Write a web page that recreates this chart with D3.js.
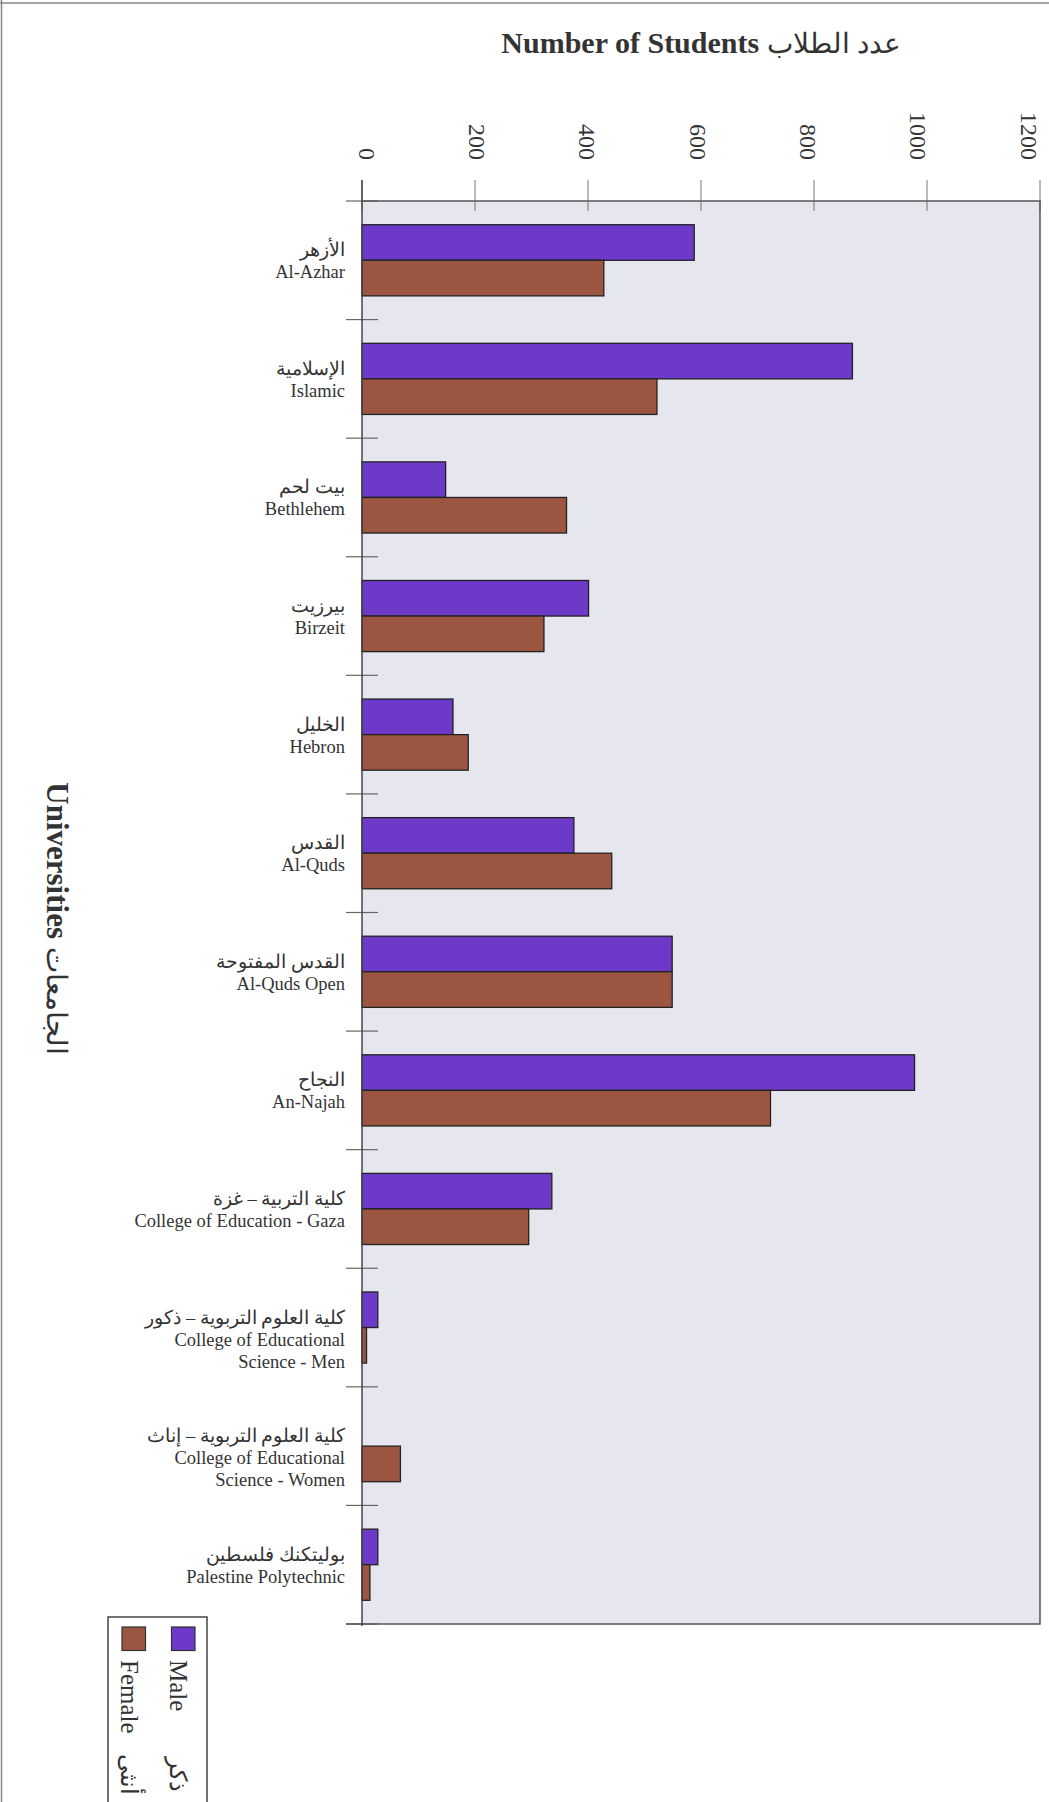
<!DOCTYPE html>
<html>
  <head>
    <meta charset="utf-8">
    <title>Number of Students by University</title>
    <script src="https://d3js.org/d3.v7.min.js"></script>
    <style>
      body { margin: 0; background: #fff; }
      text { font-family: "Liberation Serif", "Times New Roman", serif; fill: #333; }
    </style>
  </head>
  <body>
    <svg id="chart" width="1049" height="1802"></svg>
    <script>
// data
var arabicNames = ["الأزهر", "الإسلامية", "بيت لحم", "بيرزيت", "الخليل", "القدس",
  "القدس المفتوحة", "النجاح", "كلية التربية – غزة", "كلية العلوم التربوية – ذكور",
  "كلية العلوم التربوية – إناث", "بوليتكنك فلسطين"];
var englishNames = [["Al-Azhar"], ["Islamic"], ["Bethlehem"], ["Birzeit"], ["Hebron"], ["Al-Quds"],
  ["Al-Quds Open"], ["An-Najah"], ["College of Education - Gaza"],
  ["College of Educational", "Science - Men"], ["College of Educational", "Science - Women"],
  ["Palestine Polytechnic"]];
var male   = [588, 868, 148, 401, 161, 375, 549, 978, 336, 28, 0, 28];
var female = [428, 522, 362, 322, 188, 442, 549, 723, 295, 8, 68, 14];
var xTicks = [0, 200, 400, 600, 800, 1000, 1200];
var seriesNames = ["Male", "Female"];
var seriesArabic = ["ذكر", "أنثى"];
var colors = ["#6d39c8", "#9c5541"];

var svg = d3.select("#chart");

// page frame lines from the scan
svg.append("line").attr("x1", 0).attr("x2", 1049).attr("y1", 3).attr("y2", 3)
  .attr("stroke", "#888").attr("stroke-width", 1.5);
svg.append("line").attr("x1", 1.5).attr("x2", 1.5).attr("y1", 0).attr("y2", 1802)
  .attr("stroke", "#888").attr("stroke-width", 1.5);

// plot box (window.top is read-only, so prefixed names)
var pLeft = 362, pRight = 1040, pTop = 201, pBottom = 1624;

var x = d3.scaleLinear().domain([0, 1200]).range([pLeft, pRight]);
// tick labels sit slightly tighter than the ticks in the original
var xLab = d3.scaleLinear().domain([0, 1200]).range([pLeft + 5, pRight - 11]);
var y0 = d3.scaleBand().domain(d3.range(arabicNames.length)).range([pTop, pBottom]);
var step = y0.step();
var y1 = d3.scaleBand().domain(seriesNames).range([step * 0.2, step * 0.8]);

// plot background
svg.append("rect")
  .attr("x", pLeft).attr("y", pTop)
  .attr("width", pRight - pLeft).attr("height", pBottom - pTop)
  .attr("fill", "#e6e6ee");

// value ticks + labels (rotated like the page)
var xt = svg.append("g");
xt.selectAll("line").data(xTicks).enter().append("line")
  .attr("x1", function(d) { return x(d); }).attr("x2", function(d) { return x(d); })
  .attr("y1", pTop - 21).attr("y2", pTop + 10)
  .attr("stroke", "#777").attr("stroke-width", 1);
xt.selectAll("text").data(xTicks).enter().append("text")
  .attr("transform", function(d) { return "translate(" + xLab(d) + "," + (pTop - 41) + ") rotate(90)"; })
  .attr("text-anchor", "end")
  .attr("dy", "0.35em")
  .style("font-size", "24px")
  .text(function(d) { return d; });

// category ticks at band boundaries
var bounds = d3.range(arabicNames.length + 1).map(function(i) { return pTop + i * step; });
svg.append("g").selectAll("line").data(bounds).enter().append("line")
  .attr("x1", pLeft - 16).attr("x2", pLeft + 16)
  .attr("y1", function(d) { return d; }).attr("y2", function(d) { return d; })
  .attr("stroke", "#666").attr("stroke-width", 1.2);

// bars
var groups = svg.append("g").selectAll("g")
  .data(d3.range(arabicNames.length))
  .enter().append("g")
  .attr("transform", function(i) { return "translate(0," + y0(i) + ")"; });

groups.selectAll("rect")
  .data(function(i) {
    return [{ s: "Male", v: male[i], c: colors[0] }, { s: "Female", v: female[i], c: colors[1] }]
      .filter(function(d) { return d.v > 0; });
  })
  .enter().append("rect")
  .attr("x", x(0))
  .attr("y", function(d) { return y1(d.s); })
  .attr("width", function(d) { return x(d.v) - x(0); })
  .attr("height", y1.bandwidth())
  .attr("fill", function(d) { return d.c; })
  .attr("stroke", "#222").attr("stroke-width", 1.3);

// category labels: arabic line then english lines
groups.each(function(i) {
  var g = d3.select(this);
  var cy = step / 2 - 4;
  g.append("text")
    .attr("x", pLeft - 17).attr("y", cy)
    .attr("text-anchor", "end")
    .style("font-size", "18.5px")
    .text(arabicNames[i]);
  englishNames[i].forEach(function(line, k) {
    g.append("text")
      .attr("x", pLeft - 17).attr("y", cy + 22 * (k + 1))
      .attr("text-anchor", "end")
      .style("font-size", "18.5px")
      .text(line);
  });
});

// plot frame
svg.append("path")
  .attr("d", "M" + pLeft + "," + pTop + "H" + pRight + "V" + pBottom + "H" + (pLeft - 16))
  .attr("fill", "none").attr("stroke", "#555").attr("stroke-width", 1.5);
svg.append("line")
  .attr("x1", pLeft).attr("x2", pLeft).attr("y1", pTop - 21).attr("y2", pBottom + 2)
  .attr("stroke", "#444").attr("stroke-width", 1.5);

// titles
var title = svg.append("text")
  .attr("x", (pLeft + pRight) / 2).attr("y", 53)
  .attr("text-anchor", "middle");
title.append("tspan").style("font-size", "30px").style("font-weight", "bold").text("Number of Students ");
title.append("tspan").style("font-size", "28px").text("عدد الطلاب");

var ytitle = svg.append("text")
  .attr("transform", "translate(47," + ((pTop + pBottom) / 2 + 6) + ") rotate(90)")
  .attr("text-anchor", "middle");
ytitle.append("tspan").style("font-size", "31px").style("font-weight", "bold").text("Universities ");
ytitle.append("tspan").style("font-size", "28px").text("الجامعات");

// legend, rotated like the page
var legend = svg.append("g").attr("transform", "translate(207,1617) rotate(90)");
legend.append("rect")
  .attr("x", 0).attr("y", 0).attr("width", 200).attr("height", 99)
  .attr("fill", "#fff").attr("stroke", "#444").attr("stroke-width", 1.5);
var items = legend.selectAll("g.item").data(seriesNames).enter().append("g")
  .attr("class", "item")
  .attr("transform", function(d, i) { return "translate(0," + (12 + i * 49.5) + ")"; });
items.append("rect")
  .attr("x", 10).attr("y", 0).attr("width", 23.5).attr("height", 23.5)
  .attr("fill", function(d, i) { return colors[i]; })
  .attr("stroke", "#333").attr("stroke-width", 1.2);
items.append("text")
  .attr("x", 43).attr("y", 25)
  .style("font-size", "25px")
  .text(function(d) { return d; });
items.append("text")
  .attr("x", 157).attr("y", 25)
  .attr("text-anchor", "middle")
  .style("font-size", "24px")
  .text(function(d, i) { return seriesArabic[i]; });
    </script>
  </body>
</html>
